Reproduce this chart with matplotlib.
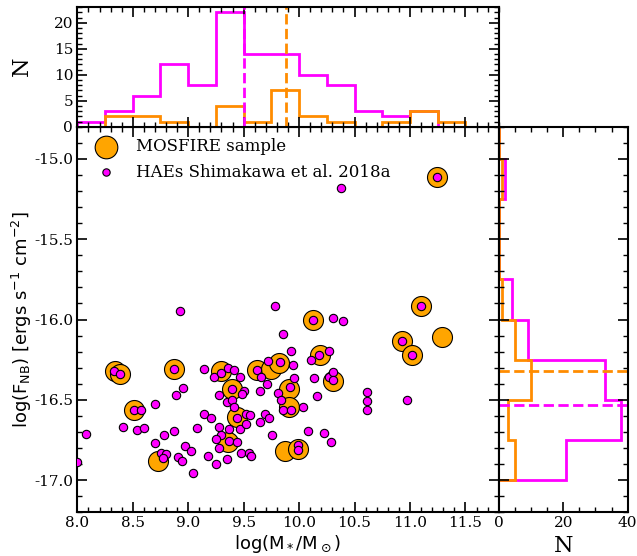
import matplotlib
matplotlib.use("Agg")
import matplotlib.pyplot as plt
from matplotlib.ticker import MultipleLocator

plt.rcParams["font.family"] = "serif"
plt.rcParams["font.serif"] = ["DejaVu Serif"]
plt.rcParams["mathtext.fontset"] = "dejavusans"
plt.rcParams["axes.unicode_minus"] = False

# MOSFIRE sample: stellar mass, narrow-band flux
mos_mass = [8.340, 8.385, 8.872, 8.511, 8.730, 9.293, 9.395, 9.618, 9.747,
            9.819, 9.437, 9.362, 9.912, 9.912, 9.873, 9.990, 10.128, 10.188, 10.308,
            11.241, 11.096, 11.286, 10.928, 11.015]
mos_flux = [-16.322, -16.338, -16.307, -16.566, -16.882, -16.322, -16.431, -16.313, -16.305,
            -16.268, -16.608, -16.764, -16.431, -16.546, -16.821, -16.803, -16.002, -16.224, -16.381,
            -15.110, -15.917, -16.106, -16.135, -16.224]

# HAEs from Shimakawa et al. 2018a
hae_mass = [7.993, 8.076, 8.335, 8.385, 8.415, 8.514, 8.576, 8.536, 8.599, 8.701,
            8.698, 8.755, 8.800, 8.770, 8.782, 8.875, 8.872, 8.949, 8.888, 8.904,
            8.941, 8.926, 8.967, 9.023, 9.046, 9.077, 9.138, 9.145, 9.208, 9.176,
            9.248, 9.235, 9.298, 9.356, 9.416, 9.467, 9.278, 9.347, 9.398, 9.417,
            9.398, 9.506, 9.485, 9.278, 9.370, 9.467, 9.518, 9.437, 9.518, 9.553,
            9.300, 9.251, 9.368, 9.437, 9.347, 9.476, 9.546, 9.570, 9.280, 9.618,
            9.656, 9.717, 9.828, 9.948, 9.957, 9.918, 9.807, 9.837, 9.708, 9.647,
            9.858, 9.927, 9.694, 9.729, 9.647, 9.753, 9.787, 9.858, 9.929, 9.987,
            9.987, 10.038, 10.076, 10.107, 10.128, 10.137, 10.159, 10.181, 10.227, 10.267,
            10.267, 10.288, 10.308, 10.308, 10.308, 10.399, 10.378, 10.610, 10.610, 10.610,
            10.970, 10.928, 11.015, 11.096, 11.241]
hae_flux = [-16.884, -16.714, -16.322, -16.339, -16.670, -16.566, -16.562, -16.688, -16.678, -16.529,
            -16.770, -16.828, -16.836, -16.865, -16.716, -16.697, -16.307, -16.425, -16.473, -16.857,
            -16.882, -15.950, -16.790, -16.821, -16.954, -16.674, -16.311, -16.587, -16.612, -16.851,
            -16.898, -16.359, -16.330, -16.299, -16.317, -16.359, -16.467, -16.515, -16.504, -16.543,
            -16.431, -16.442, -16.465, -16.666, -16.680, -16.680, -16.652, -16.612, -16.587, -16.597,
            -16.717, -16.745, -16.757, -16.765, -16.867, -16.828, -16.831, -16.849, -16.798, -16.313,
            -16.355, -16.261, -16.266, -16.286, -16.361, -16.423, -16.457, -16.502, -16.404, -16.446,
            -16.566, -16.561, -16.590, -16.613, -16.637, -16.717, -15.917, -16.093, -16.199, -16.781,
            -16.811, -16.546, -16.697, -16.253, -16.004, -16.363, -16.479, -16.219, -16.708, -16.193,
            -16.359, -16.764, -15.992, -16.324, -16.375, -16.012, -15.180, -16.452, -16.509, -16.562,
            -16.500, -16.135, -16.224, -15.917, -15.110]

# mass histograms (bin width 0.25 dex)
mass_edges = [8.0, 8.25, 8.5, 8.75, 9.0, 9.25, 9.5, 9.75, 10.0, 10.25,
              10.5, 10.75, 11.0, 11.25, 11.5, 11.75, 12.0]
mass_counts_hae = [1, 3, 6, 12, 8, 22, 14, 14, 10, 8, 3, 2, 3, 0, 0, 0]
mass_counts_mos = [0, 2, 2, 1, 0, 4, 1, 7, 2, 1, 0, 1, 3, 1, 0, 0]

# flux histograms (bin width 0.25 dex)
flux_edges = [-17.0, -16.75, -16.5, -16.25, -16.0, -15.75, -15.5, -15.25, -15.0, -14.75]
flux_counts_hae = [21, 38, 33, 9, 4, 0, 0, 2, 0]
flux_counts_mos = [5, 3, 10, 5, 1, 0, 0, 1, 0]

median_mass_hae, median_mass_mos = 9.50, 9.88
median_flux_hae, median_flux_mos = -16.53, -16.32

c_mag = "#ff00ff"
c_ora = "#ffa500"
c_ora_line = "#ff8c00"

fig = plt.figure(figsize=(6.37, 5.56), dpi=100)
ax = fig.add_axes([0.1214, 0.0786, 0.6615, 0.6935])
ax_top = fig.add_axes([0.1214, 0.7721, 0.6615, 0.2159])
ax_right = fig.add_axes([0.7829, 0.0786, 0.2025, 0.6935])

ax.scatter(mos_mass, mos_flux, s=207, color=c_ora, edgecolor="black", lw=0.8,
           label="MOSFIRE sample", zorder=2)
ax.scatter(hae_mass, hae_flux, s=36, color=c_mag, edgecolor="black", lw=0.8,
           label="HAEs Shimakawa et al. 2018a", zorder=3)
leg = ax.legend(loc="upper left", frameon=False, fontsize=12, scatterpoints=1,
                borderaxespad=0.3)
leg.legend_handles[0].set_sizes([266])
leg.legend_handles[1].set_sizes([28])

ax.set(xlim=(8.0, 11.8), ylim=(-17.2, -14.8))
ax.set_xlabel(r"log(M$_*$/M$_\odot$)", family="DejaVu Sans", fontsize=13, labelpad=2)
ax.set_ylabel(r"log(F$_{\rm NB}$) [ergs s$^{-1}$ cm$^{-2}$]", family="DejaVu Sans",
              fontsize=13, labelpad=0)

ax_top.stairs(mass_counts_hae, mass_edges, color=c_mag, lw=2)
ax_top.stairs(mass_counts_mos, mass_edges, color=c_ora_line, lw=2)
ax_top.axvline(median_mass_hae, color=c_mag, ls="--", lw=2)
ax_top.axvline(median_mass_mos, color=c_ora_line, ls="--", lw=2)
ax_top.set(xlim=(8.0, 11.8), ylim=(0, 23.1))
ax_top.set_ylabel("N", fontsize=16, labelpad=15)
ax_top.tick_params(labelbottom=False)

ax_right.stairs(flux_counts_hae, flux_edges, orientation="horizontal", color=c_mag, lw=2)
ax_right.stairs(flux_counts_mos, flux_edges, orientation="horizontal", color=c_ora_line, lw=2)
ax_right.axhline(median_flux_mos, color=c_ora_line, ls="--", lw=2)
ax_right.axhline(median_flux_hae, color=c_mag, ls="--", lw=2)
ax_right.set(xlim=(0, 40), ylim=(-17.2, -14.8))
ax_right.set_xlabel("N", fontsize=16, labelpad=3)
ax_right.tick_params(labelleft=False)

ax.xaxis.set_major_locator(MultipleLocator(0.5))
ax.xaxis.set_minor_locator(MultipleLocator(0.1))
ax.yaxis.set_major_locator(MultipleLocator(0.5))
ax.yaxis.set_minor_locator(MultipleLocator(0.1))
ax_top.xaxis.set_major_locator(MultipleLocator(0.5))
ax_top.xaxis.set_minor_locator(MultipleLocator(0.1))
ax_top.yaxis.set_major_locator(MultipleLocator(5))
ax_top.yaxis.set_minor_locator(MultipleLocator(1))
ax_right.xaxis.set_major_locator(MultipleLocator(20))
ax_right.xaxis.set_minor_locator(MultipleLocator(5))
ax_right.yaxis.set_major_locator(MultipleLocator(0.5))
ax_right.yaxis.set_minor_locator(MultipleLocator(0.1))

for a in (ax, ax_top, ax_right):
    a.tick_params(which="both", direction="in", top=True, right=True, labelsize=11, pad=3)
    a.tick_params(which="major", length=7, width=1.2)
    a.tick_params(which="minor", length=3.5, width=1)
    for sp in a.spines.values():
        sp.set_linewidth(1.5)

fig.savefig("out.png", dpi=100)
